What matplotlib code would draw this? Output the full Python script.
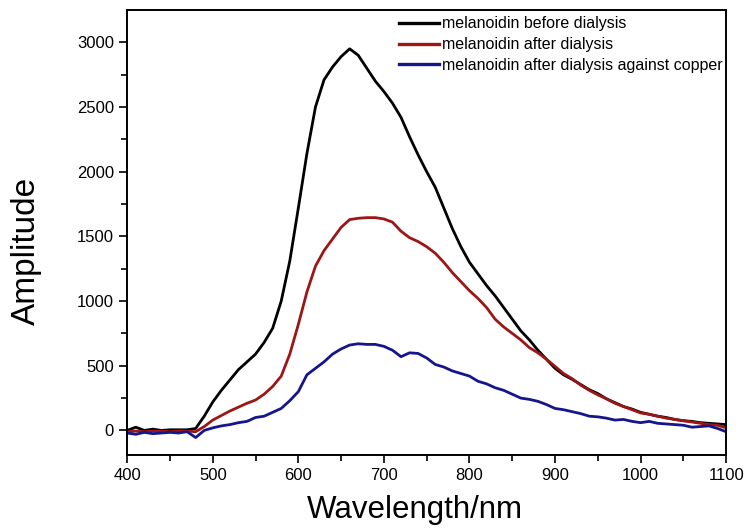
import matplotlib.pyplot as plt
import numpy as np

plt.rcParams['font.family'] = ['Liberation Sans', 'DejaVu Sans']

wavelength = np.arange(400, 1101, 10)

before = [0, 25, 0, 10, 0, 5, 5, 5, 15, 110, 220, 310, 390, 470, 530, 590, 680, 790, 1000, 1310,
          1720, 2140, 2500, 2710, 2810, 2890, 2950, 2900, 2800, 2700, 2620, 2530, 2420, 2270, 2130,
          2000, 1880, 1720, 1560, 1420, 1300, 1210, 1120, 1040, 950, 860, 770, 700, 620, 550,
          480, 430, 395, 355, 315, 285, 245, 215, 185, 165, 140, 125, 110, 100, 85, 75, 70, 60, 55, 50, 45]

after = [-10, -5, -10, -5, -5, -10, -5, -5, -10, 30, 80, 115, 150, 180, 210, 235, 280, 340, 420, 590,
         820, 1070, 1270, 1390, 1480, 1570, 1630, 1640, 1645, 1645, 1635, 1610, 1540, 1490, 1460,
         1420, 1370, 1300, 1220, 1150, 1080, 1020, 950, 860, 800, 750, 700, 640, 600, 550,
         495, 440, 400, 350, 310, 275, 245, 210, 185, 160, 135, 125, 110, 95, 85, 75, 65, 55, 45, 40, 20]

copper = [-20, -30, -15, -25, -20, -15, -20, -10, -55, 0, 20, 35, 45, 60, 70, 100, 110, 140, 170, 230,
          300, 430, 480, 530, 590, 630, 660, 670, 665, 665, 650, 620, 570, 600, 595,
          560, 510, 490, 460, 440, 420, 380, 360, 330, 310, 280, 250, 240, 225, 200,
          170, 160, 145, 130, 110, 105, 95, 80, 85, 70, 60, 70, 55, 50, 45, 40, 25, 30, 35, 15, -10]

labels = ['melanoidin before dialysis', 'melanoidin after dialysis',
          'melanoidin after dialysis against copper']
colors = ['black', '#9c1616', '#15158c']

fig = plt.figure(figsize=(7.44, 5.30), dpi=100)
ax = fig.add_axes([0.171, 0.1415, 0.805, 0.8396])

for ys, lab, c in zip([before, after, copper], labels, colors):
    ax.plot(wavelength, ys, color=c, lw=2.0, label=lab)

ax.set_xlim(400, 1100)
ax.set_ylim(-190, 3250)
ax.set_xticks(np.arange(400, 1101, 100))
ax.set_xticks(np.arange(450, 1100, 100), minor=True)
ax.set_yticks(np.arange(0, 3001, 500))
ax.set_yticks(np.arange(250, 3250, 500), minor=True)
ax.tick_params(which='both', direction='out', top=False, right=False, labelsize=12, width=1.2)
ax.tick_params(which='major', length=6)
ax.tick_params(which='minor', length=4)
for s in ax.spines.values():
    s.set_linewidth(1.4)

ax.set_xlabel('Wavelength/nm', fontsize=22.5)
ax.xaxis.set_label_coords(0.48, -0.09)
ax.set_ylabel('Amplitude', fontsize=24)
ax.yaxis.set_label_coords(-0.143, 0.458)

leg = ax.legend(loc='upper right', bbox_to_anchor=(1.005, 1.0), frameon=False,
                fontsize=11.5, handlelength=2.5, handletextpad=0.2,
                labelspacing=0.36, borderaxespad=0.0)
for h in leg.get_lines():
    h.set_linewidth(2.4)

fig.savefig('out.png', dpi=100)
